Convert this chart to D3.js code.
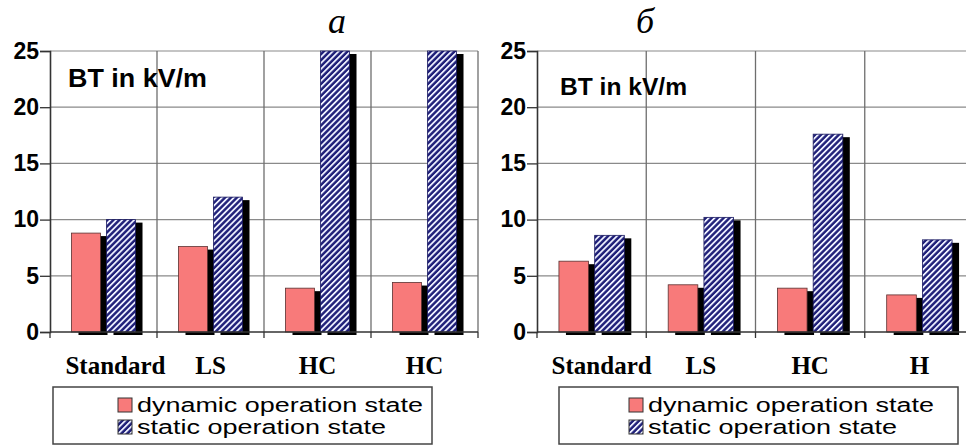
<!DOCTYPE html>
<html>
<head>
<meta charset="utf-8">
<script src="https://cdn.jsdelivr.net/npm/d3@7"></script>
<style>
  html, body { margin: 0; padding: 0; background: #fff; }
  svg { display: block; }
</style>
</head>
<body>
<svg id="chart" width="966" height="446"></svg>
<script>
// ---------- data ----------
const yTicks = [0, 5, 10, 15, 20, 25];
const seriesNames = ["dynamic operation state", "static operation state"];

const titleA = "а";
const categoriesA = ["Standard", "LS", "HC", "HC"];
const dynamicA = [8.8, 7.6, 3.9, 4.4];
const staticA = [10.0, 12.0, 25, 25];

const titleB = "б";
const categoriesB = ["Standard", "LS", "HC", "H"];
const dynamicB = [6.3, 4.2, 3.9, 3.3];
const staticB = [8.6, 10.2, 17.6, 8.2];

const unitLabel = "BT in kV/m";

// ---------- drawing ----------
const svg = d3.select("#chart");
const defs = svg.append("defs");
const pat = defs.append("pattern")
  .attr("id", "hatch")
  .attr("patternUnits", "userSpaceOnUse")
  .attr("width", 4.2).attr("height", 4.2)
  .attr("patternTransform", "rotate(45)");
pat.append("rect").attr("width", 4.2).attr("height", 4.2).attr("fill", "#1e1e78");
pat.append("rect").attr("x", 0).attr("width", 1.8).attr("height", 4.2).attr("fill", "#eef0ff");

const SANS = "'Liberation Sans', Arial, sans-serif";
const SERIF = "'Liberation Serif', 'Times New Roman', serif";
const RED = "#f87a7a";

const yTop = 51, yBottom = 332;
const y = d3.scaleLinear().domain([0, 25]).range([yBottom, yTop]);

function panel(cfg) {
  const g = svg.append("g");
  const n = cfg.cats.length;
  const x = d3.scaleBand().domain(d3.range(n)).range([cfg.x0, cfg.x1]).padding(0);
  const xs = d3.scaleBand().domain([0, 1]).range([0, x.bandwidth()])
    .paddingInner(0.171).paddingOuter(0.614);

  // horizontal grid
  g.append("g").selectAll("line").data(yTicks.filter(d => d > 0)).join("line")
    .attr("x1", cfg.x0).attr("x2", cfg.x1)
    .attr("y1", d => y(d)).attr("y2", d => y(d))
    .attr("stroke", "#8a8a8a").attr("stroke-width", 1.2);
  // vertical grid (category boundaries)
  g.append("g").selectAll("line").data(d3.range(1, n + 1)).join("line")
    .attr("x1", i => x(i - 1) + x.step()).attr("x2", i => x(i - 1) + x.step())
    .attr("y1", yTop).attr("y2", yBottom)
    .attr("stroke", "#6e6e6e").attr("stroke-width", 1.3);

  const data = cfg.cats.map((c, i) => ({ i, vals: [cfg.dyn[i], cfg.stat[i]] }));
  const grp = g.append("g").selectAll("g").data(data).join("g")
    .attr("transform", d => `translate(${x(d.i)},0)`);
  const bars = grp.selectAll("g.bar").data(d => d.vals.map((v, k) => ({ v, k })))
    .join("g").attr("class", "bar");
  // shadows
  bars.append("rect")
    .attr("x", d => xs(d.k) + 7).attr("y", d => y(d.v) + 3)
    .attr("width", xs.bandwidth()).attr("height", d => yBottom - y(d.v))
    .attr("fill", "#000");
  bars.append("rect")
    .attr("x", d => xs(d.k)).attr("y", d => y(d.v))
    .attr("width", xs.bandwidth()).attr("height", d => yBottom - y(d.v))
    .attr("fill", d => d.k === 0 ? RED : "url(#hatch)")
    .attr("stroke", d => d.k === 0 ? "#5a3030" : "#1a1a60")
    .attr("stroke-width", 0.8);

  // y axis
  const ya = g.append("g").attr("transform", `translate(${cfg.x0},0)`)
    .call(d3.axisLeft(y).tickValues(yTicks).tickSize(10).tickPadding(1));
  ya.select(".domain").attr("stroke", "#333").attr("stroke-width", 1.6);
  ya.selectAll(".tick line").attr("stroke", "#333").attr("stroke-width", 1.3);
  ya.selectAll(".tick text").attr("font-family", SANS).attr("font-weight", "bold")
    .attr("font-size", 23).attr("fill", "#000");

  // x axis line + ticks
  g.append("line").attr("x1", cfg.x0).attr("x2", cfg.x1)
    .attr("y1", yBottom).attr("y2", yBottom)
    .attr("stroke", "#333").attr("stroke-width", 1.6);
  g.append("g").selectAll("line").data(d3.range(0, n + 1)).join("line")
    .attr("x1", i => cfg.x0 + i * x.step()).attr("x2", i => cfg.x0 + i * x.step())
    .attr("y1", yBottom).attr("y2", yBottom + 6)
    .attr("stroke", "#333").attr("stroke-width", 1.3);

  // category labels
  g.append("g").selectAll("text").data(cfg.cats).join("text")
    .attr("x", (c, i) => x(i) + x.bandwidth() / 2 + (i === 0 ? cfg.firstShift : 0))
    .attr("y", 374)
    .attr("text-anchor", "middle")
    .attr("font-family", SERIF).attr("font-weight", "bold").attr("font-size", 25)
    .text(c => c);

  // unit label
  g.append("text").attr("x", cfg.btX).attr("y", cfg.btY)
    .attr("font-family", SANS).attr("font-weight", "bold").attr("font-size", cfg.btSize)
    .attr("textLength", cfg.btLen).attr("lengthAdjust", "spacingAndGlyphs")
    .text(unitLabel);

  // title
  g.append("text").attr("x", cfg.titleX).attr("y", 33).attr("text-anchor", "middle")
    .attr("font-family", SERIF).attr("font-style", "italic").attr("font-size", 36)
    .text(cfg.title);

  // legend
  const L = cfg.legend;
  const lg = g.append("g");
  lg.append("rect").attr("x", L.x).attr("y", 387).attr("width", L.w).attr("height", 57)
    .attr("fill", "#fff").attr("stroke", "#444").attr("stroke-width", 1.5);
  const items = lg.selectAll("g").data(seriesNames).join("g")
    .attr("transform", (d, k) => `translate(0,${k * 22})`);
  items.append("rect").attr("x", L.sx).attr("y", 398).attr("width", 14).attr("height", 14)
    .attr("fill", (d, k) => k === 0 ? RED : "url(#hatch)")
    .attr("stroke", "#333").attr("stroke-width", 1);
  items.append("text").attr("x", L.sx + 19).attr("y", 412)
    .attr("font-family", SANS).attr("font-size", 20)
    .attr("textLength", (d, k) => k === 0 ? 286 : 249).attr("lengthAdjust", "spacingAndGlyphs")
    .text(d => d);
}

panel({ x0: 50, x1: 478, cats: categoriesA, dyn: dynamicA, stat: staticA, title: titleA,
  titleX: 337, btX: 68, btY: 87, btSize: 26, btLen: 139, firstShift: 12,
  legend: { x: 53, w: 379, sx: 118 } });
panel({ x0: 537, x1: 974, cats: categoriesB, dyn: dynamicB, stat: staticB, title: titleB,
  titleX: 645, btX: 560, btY: 95, btSize: 24, btLen: 127, firstShift: 10,
  legend: { x: 559, w: 399, sx: 629 } });
</script>
</body>
</html>
